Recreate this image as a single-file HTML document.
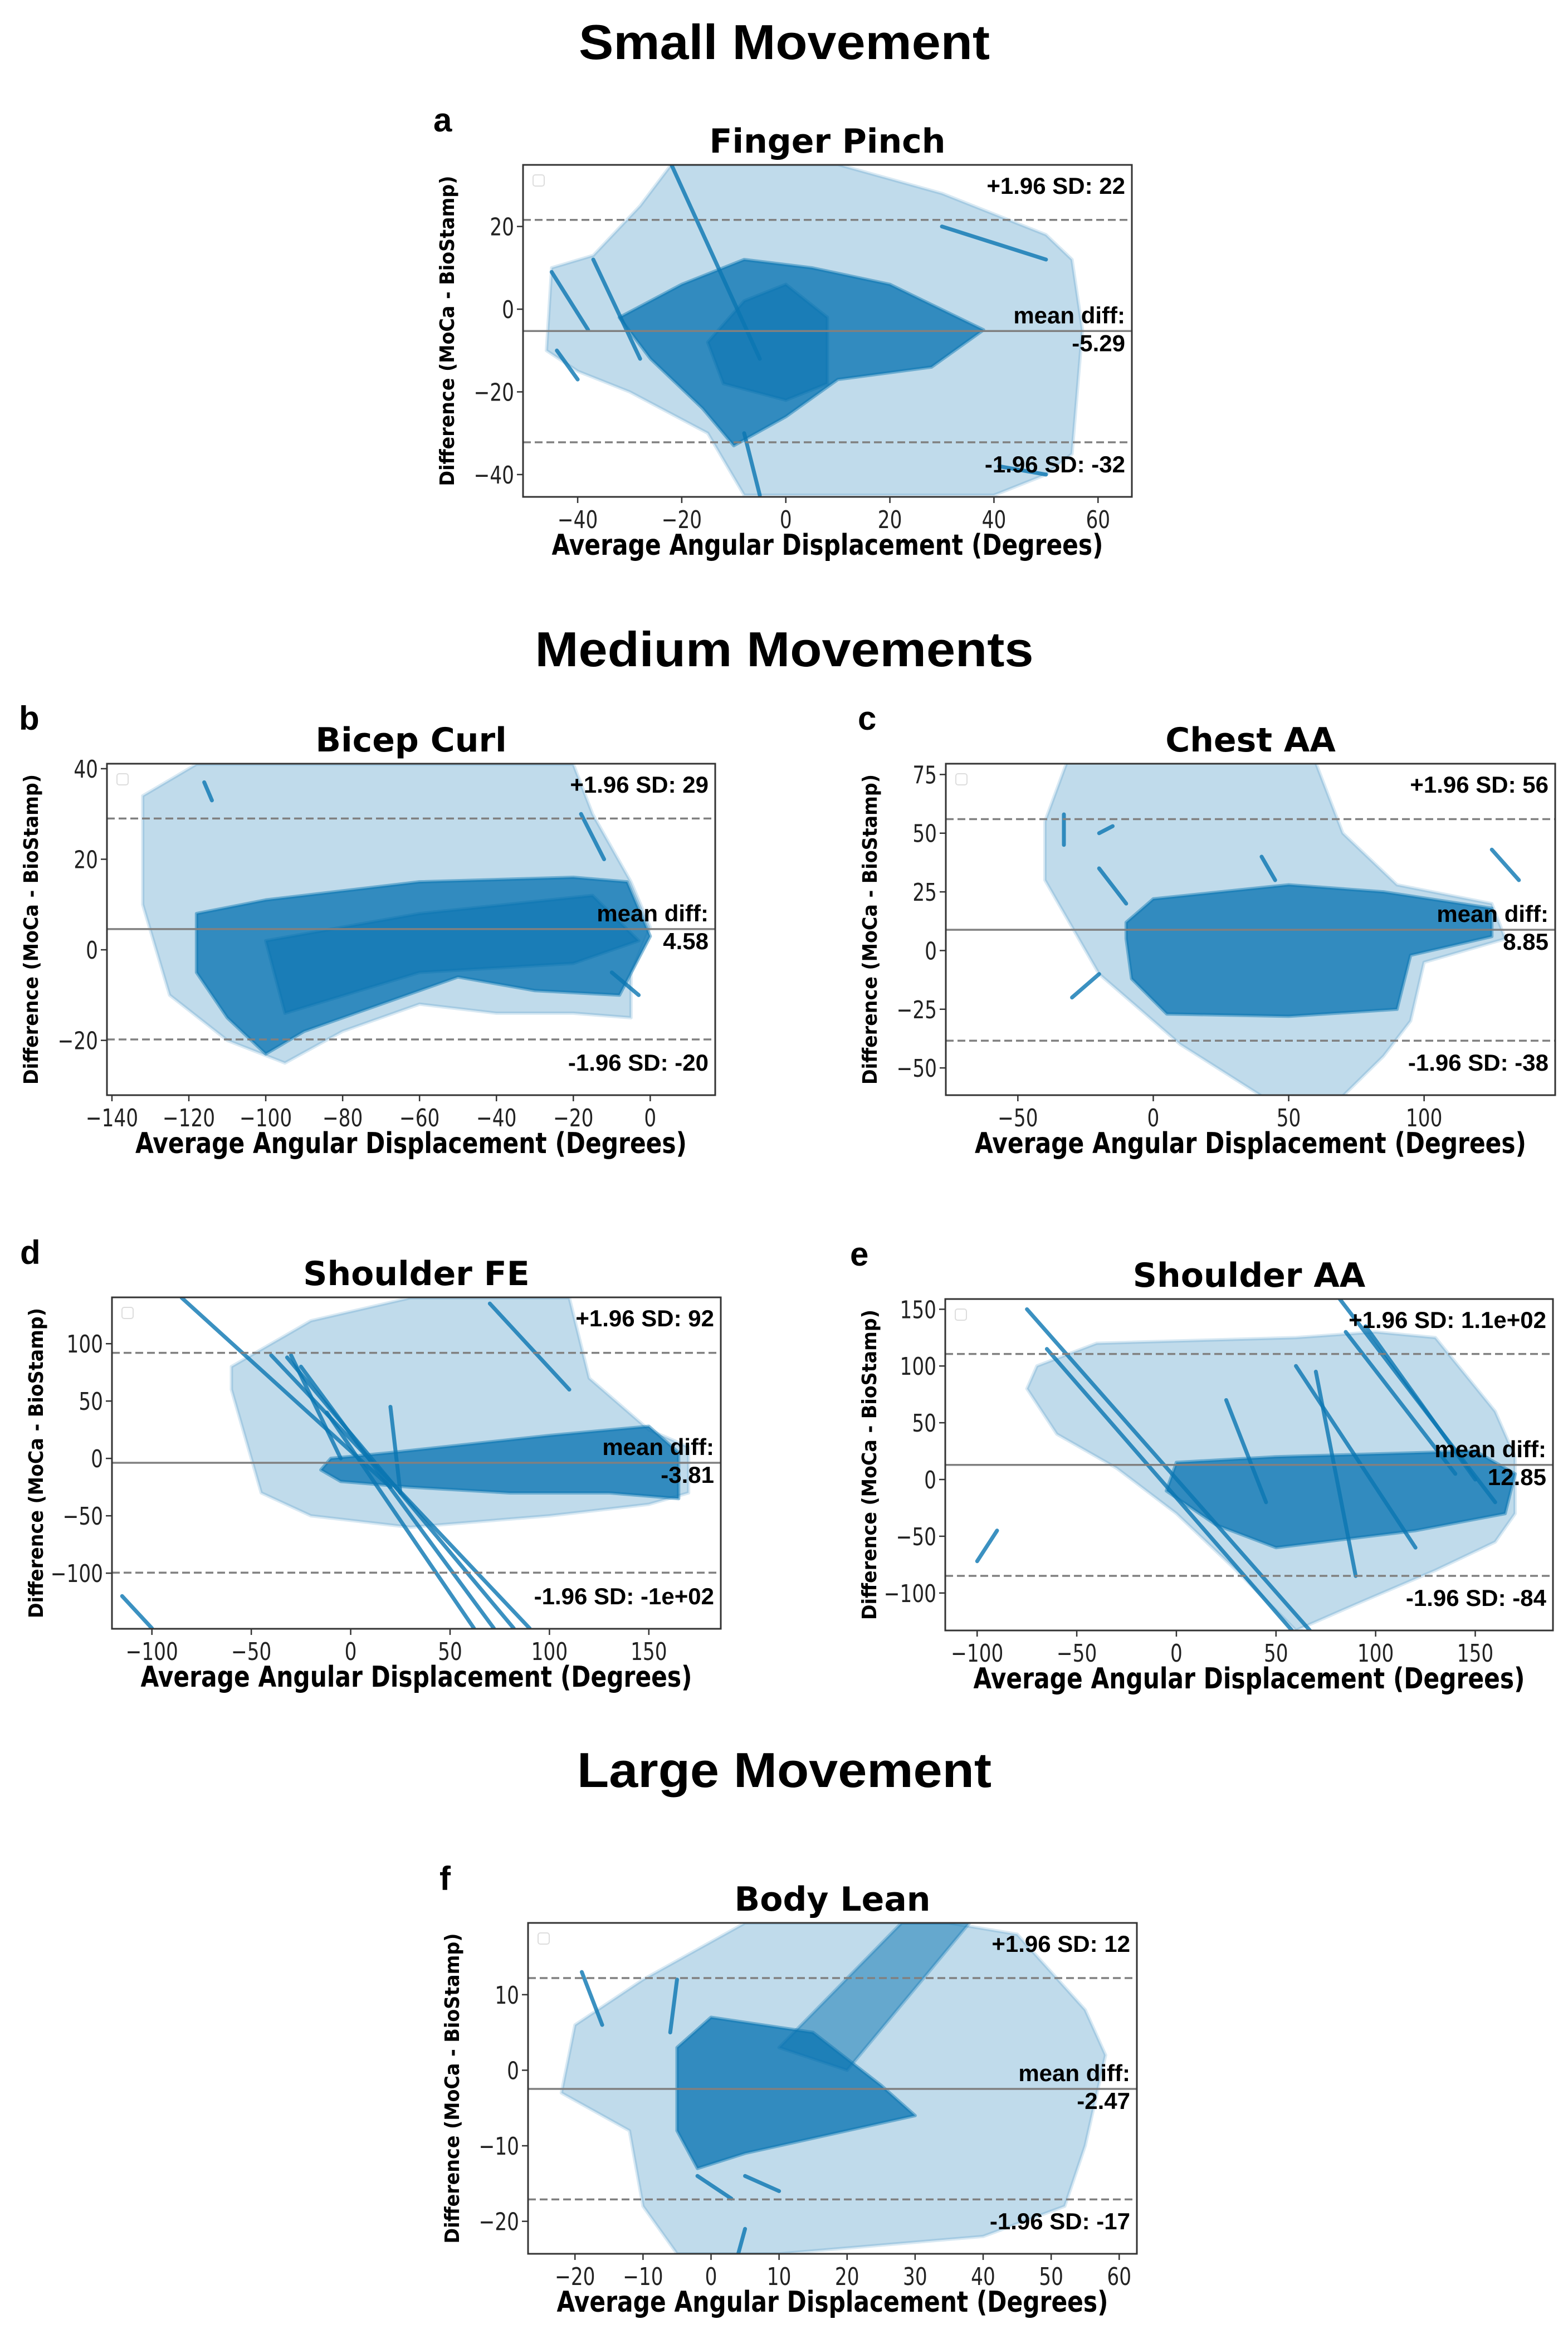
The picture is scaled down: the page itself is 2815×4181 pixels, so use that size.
<!DOCTYPE html>
<html><head><meta charset="utf-8"><title>Bland-Altman plots</title>
<style>
html,body{margin:0;padding:0;background:#fff;}
svg{display:block;}
.sec{font-family:"Liberation Sans",sans-serif;font-weight:bold;font-size:88px;fill:#000;}
.let{font-family:"Liberation Sans",sans-serif;font-weight:bold;font-size:60px;fill:#000;}
.ttl{font-family:"DejaVu Sans",sans-serif;font-weight:bold;font-size:60px;fill:#000;}
.tick{font-family:"DejaVu Sans",sans-serif;font-size:44px;fill:#222;}
.axl{font-family:"DejaVu Sans",sans-serif;font-weight:bold;font-size:52px;fill:#000;}
.yl{font-family:"DejaVu Sans",sans-serif;font-weight:bold;font-size:36px;fill:#000;}
.ann{font-family:"Liberation Sans",sans-serif;font-weight:bold;font-size:42px;fill:#000;}
</style></head>
<body>
<svg id="fig" xmlns="http://www.w3.org/2000/svg" width="2815" height="4181" viewBox="0 0 2815 4181">
<rect x="0" y="0" width="2815" height="4181" fill="#fff"/>
<text class="sec" x="1408" y="106" text-anchor="middle" textLength="738" lengthAdjust="spacingAndGlyphs">Small Movement</text>
<text class="sec" x="1408" y="1196" text-anchor="middle" textLength="895" lengthAdjust="spacingAndGlyphs">Medium Movements</text>
<text class="sec" x="1408" y="3208" text-anchor="middle" textLength="744" lengthAdjust="spacingAndGlyphs">Large Movement</text>
<text class="let" x="778" y="236">a</text>
<text class="let" x="34" y="1310">b</text>
<text class="let" x="1540" y="1310">c</text>
<text class="let" x="36" y="2269">d</text>
<text class="let" x="1526" y="2272">e</text>
<text class="let" x="789" y="3393">f</text>
</svg>
<script>
// ---------- data (data coordinates) ----------
// Panel a: Finger Pinch
const aXTicks = [-40,-20,0,20,40,60];
const aYTicks = [-40,-20,0,20];
const aLimits = [21.6,-5.29,-32.2];
const aLabels = ["+1.96 SD: 22","mean diff:","-5.29","-1.96 SD: -32"];
const aLight = [[-46,-10],[-45,10],[-37,13],[-28,25],[-22,35],[-5,35],[10,35],[30,28],[50,18],[55,12],[57,-5],[55,-35],[50,-40],[40,-45],[-8,-45],[-15,-30],[-30,-20],[-40,-15]];
const aDense = [[-32,-2],[-20,6],[-8,12],[5,10],[20,6],[38,-5],[28,-14],[10,-17],[0,-26],[-10,-33],[-16,-24],[-26,-12]];
const aCore = [[-8,2],[0,6],[8,-2],[8,-18],[0,-22],[-12,-18],[-15,-8]];
const aStreaks = [[-44,-10,-40,-17],[-45,9,-38,-5],[-37,12,-28,-12],[-22,35,-5,-12],[-8,-30,-5,-45],[41,-38,50,-40],[30,20,50,12]];
// Panel b: Bicep Curl
const bXTicks = [-140,-120,-100,-80,-60,-40,-20,0];
const bYTicks = [-20,0,20,40];
const bLimits = [29,4.58,-19.8];
const bLabels = ["+1.96 SD: 29","mean diff:","4.58","-1.96 SD: -20"];
const bLight = [[-132,34],[-118,41],[-20,41],[-15,30],[-5,15],[0,5],[-5,-5],[-5,-15],[-20,-14],[-40,-14],[-60,-12],[-80,-18],[-95,-25],[-110,-20],[-125,-10],[-132,10]];
const bDense = [[-118,8],[-100,11],[-60,15],[-20,16],[-6,15],[0,3],[-8,-10],[-30,-9],[-50,-6],[-70,-12],[-90,-18],[-100,-23],[-110,-15],[-118,-5]];
const bCore = [[-100,2],[-60,8],[-15,12],[-3,2],[-20,-3],[-60,-5],[-95,-14]];
const bStreaks = [[-116,37,-114,33],[-18,30,-12,20],[-10,-5,-3,-10]];
// Panel c: Chest AA
const cXTicks = [-50,0,50,100];
const cYTicks = [-50,-25,0,25,50,75];
const cLimits = [56,8.85,-38.4];
const cLabels = ["+1.96 SD: 56","mean diff:","8.85","-1.96 SD: -38"];
const cLight = [[-40,55],[-32,80],[60,80],[70,50],[90,28],[125,20],[130,5],[100,-5],[95,-30],[85,-45],[70,-62],[40,-62],[10,-40],[-20,-10],[-40,30]];
const cDense = [[-10,12],[0,22],[50,28],[85,25],[125,18],[125,6],[95,-2],[90,-25],[50,-28],[5,-27],[-8,-12],[-10,5]];
const cStreaks = [[-33,58,-33,45],[-20,50,-15,53],[-20,35,-10,20],[-30,-20,-20,-10],[40,40,45,30],[125,43,135,30]];
// Panel d: Shoulder FE
const dXTicks = [-100,-50,0,50,100,150];
const dYTicks = [-100,-50,0,50,100];
const dLimits = [92,-3.81,-99.6];
const dLabels = ["+1.96 SD: 92","mean diff:","-3.81","-1.96 SD: -1e+02"];
const dLight = [[-60,80],[-20,120],[30,140],[110,140],[120,70],[150,25],[170,10],[170,-30],[150,-40],[100,-50],[30,-60],[-20,-50],[-45,-30],[-50,0],[-60,60]];
const dDense = [[-10,0],[20,5],[100,20],[150,28],[165,5],[165,-35],[130,-30],[80,-30],[30,-25],[-5,-20],[-15,-10]];
const dStreaks = [[-40,90,90,-148],[-32,88,82,-148],[-25,80,72,-148],[-12,40,62,-148],[-85,140,20,-25],[20,45,25,-30],[-115,-120,-100,-148],[70,135,110,60],[-30,90,-5,0]];
// Panel e: Shoulder AA
const eXTicks = [-100,-50,0,50,100,150];
const eYTicks = [-100,-50,0,50,100,150];
const eLimits = [110.6,12.85,-84.9];
const eLabels = ["+1.96 SD: 1.1e+02","mean diff:","12.85","-1.96 SD: -84"];
const eLight = [[-70,100],[-40,120],[60,125],[100,130],[130,125],[160,60],[170,20],[170,-30],[160,-55],[130,-80],[90,-110],[60,-133],[30,-80],[0,-30],[-30,10],[-60,40],[-75,80]];
const eDense = [[0,15],[50,20],[150,25],[170,5],[165,-30],[120,-45],[50,-60],[20,-40],[-5,-10]];
const eStreaks = [[-75,150,67,-133],[-65,115,58,-133],[85,130,140,5],[95,135,150,0],[82,159,160,-20],[60,100,120,-60],[70,95,90,-85],[-100,-72,-90,-45],[25,70,45,-20]];
// Panel f: Body Lean
const fXTicks = [-20,-10,0,10,20,30,40,50,60];
const fYTicks = [-20,-10,0,10];
const fLimits = [12.2,-2.47,-17.1];
const fLabels = ["+1.96 SD: 12","mean diff:","-2.47","-1.96 SD: -17"];
const fLight = [[-22,-3],[-20,6],[-10,12],[5,19.5],[20,19.5],[35,19.5],[45,18],[55,8],[58,2],[55,-10],[52,-18],[40,-22],[10,-24.3],[-5,-24.3],[-10,-18],[-12,-8]];
const fDense = [[-5,3],[0,7],[15,5],[25,-2],[30,-6],[20,-8],[5,-11],[-2,-13],[-5,-8]];
const fBand = [[10,3],[28,19.5],[38,19.5],[20,0]];
const fStreaks = [[-19,13,-16,6],[-6,5,-5,12],[4,-24.3,5,-21],[-2,-14,3,-17],[5,-14,10,-16]];

// ---------- layout ----------
const NS = "http://www.w3.org/2000/svg";
const svg = document.getElementById('fig');
const BLUE = "#0a75b2";
function mk(tag, attrs, parent){
  const e = document.createElementNS(NS, tag);
  for (const k in attrs) e.setAttribute(k, attrs[k]);
  (parent||svg).appendChild(e);
  return e;
}
const panels = [
 {id:'a', title:'Finger Pinch', box:[939,296,2032,892], xr:[-50.5,66.5], yr:[-45.4,34.9], xt:aXTicks, yt:aYTicks, lim:aLimits, lab:aLabels, light:aLight, dense:aDense, core:aCore, band:null, streaks:aStreaks},
 {id:'b', title:'Bicep Curl', box:[192,1371,1284,1966], xr:[-141.3,16.9], yr:[-32.1,41.1], xt:bXTicks, yt:bYTicks, lim:bLimits, lab:bLabels, light:bLight, dense:bDense, core:bCore, band:null, streaks:bStreaks},
 {id:'c', title:'Chest AA', box:[1698,1371,2792,1966], xr:[-76.6,148.4], yr:[-61.6,79.6], xt:cXTicks, yt:cYTicks, lim:cLimits, lab:cLabels, light:cLight, dense:cDense, core:null, band:null, streaks:cStreaks},
 {id:'d', title:'Shoulder FE', box:[201,2329,1294,2924], xr:[-120.1,186.2], yr:[-148.5,140.4], xt:dXTicks, yt:dYTicks, lim:dLimits, lab:dLabels, light:dLight, dense:dDense, core:null, band:null, streaks:dStreaks},
 {id:'e', title:'Shoulder AA', box:[1697,2332,2788,2927], xr:[-116,189], yr:[-133,159], xt:eXTicks, yt:eYTicks, lim:eLimits, lab:eLabels, light:eLight, dense:eDense, core:null, band:null, streaks:eStreaks},
 {id:'f', title:'Body Lean', box:[948,3452,2041,4046], xr:[-26.9,62.6], yr:[-24.3,19.5], xt:fXTicks, yt:fYTicks, lim:fLimits, lab:fLabels, light:fLight, dense:fDense, core:null, band:fBand, streaks:fStreaks},
];
function fmt(v){ return v<0 ? '\u2212'+Math.abs(v) : String(v); }

panels.forEach(p=>{
  const [L,T,R,B] = p.box;
  const sx = v => L + (v-p.xr[0])/(p.xr[1]-p.xr[0])*(R-L);
  const sy = v => B - (v-p.yr[0])/(p.yr[1]-p.yr[0])*(B-T);
  const g = mk('g', {});
  
  
  const cp = mk('clipPath', {id:'clip-'+p.id}, g);
  mk('rect', {x:L, y:T, width:R-L, height:B-T}, cp);
  const plot = mk('g', {'clip-path':'url(#clip-'+p.id+')'}, g);
  
  
  const poly = (pts, fill, op, name) => {
    const e = mk('polygon', {points: pts.map(q=>sx(q[0])+','+sy(q[1])).join(' '), fill:fill, 'fill-opacity':op, stroke:fill, 'stroke-opacity':op*0.6, 'stroke-width':6, 'stroke-linejoin':'round'}, plot);
    
    
  };
  poly(p.light, BLUE, 0.26, 'sparse-points-'+p.id);
  if (p.band) poly(p.band, BLUE, 0.5, 'diagonal-band-'+p.id);
  poly(p.dense, BLUE, 0.78, 'dense-points-'+p.id);
  if (p.core) poly(p.core, BLUE, 0.6, 'core-points-'+p.id);
  p.streaks.forEach((s,i)=>{
    const e = mk('line', {x1:sx(s[0]), y1:sy(s[1]), x2:sx(s[2]), y2:sy(s[3]), stroke:BLUE, 'stroke-width':7, 'stroke-opacity':0.8, 'stroke-linecap':'round'}, plot);
    
    
  });
  p.lim.forEach((v,i)=>{
    const e = mk('line', {x1:L, x2:R, y1:sy(v), y2:sy(v), stroke:'#808080', 'stroke-width':3.5, 'stroke-dasharray': i===1 ? 'none' : '14,7'}, g);
    
    
  });
  const fr = mk('rect', {x:L, y:T, width:R-L, height:B-T, fill:'none', stroke:'#333', 'stroke-width':3}, g);
  
  
  const lg = mk('rect', {x:L+18, y:T+18, width:20, height:20, rx:4, fill:'#fff', stroke:'#ddd', 'stroke-width':2}, g);
  
  
  p.xt.forEach(v=>{
    const x = sx(v);
    mk('line', {x1:x, x2:x, y1:B, y2:B+11, stroke:'#333', 'stroke-width':2.5}, g);
    const t = mk('text', {class:'tick', 'text-anchor':'middle', transform:'translate('+x+','+(B+56)+') scale(0.78,1)'}, g);
    t.textContent = fmt(v);
    
    
  });
  p.yt.forEach(v=>{
    const y = sy(v);
    mk('line', {x1:L-11, x2:L, y1:y, y2:y, stroke:'#333', 'stroke-width':2.5}, g);
    const t = mk('text', {class:'tick', 'text-anchor':'end', transform:'translate('+(L-16)+','+(y+16)+') scale(0.78,1)'}, g);
    t.textContent = fmt(v);
    
    
  });
  const cx = (L+R)/2, cy = (T+B)/2;
  const tt = mk('text', {class:'ttl', x:cx, y:T-22, 'text-anchor':'middle'}, g);
  tt.textContent = p.title;
  
  
  const xl = mk('text', {class:'axl', x:cx, y:B+104, 'text-anchor':'middle', textLength:990, lengthAdjust:'spacingAndGlyphs'}, g);
  xl.textContent = 'Average Angular Displacement (Degrees)';
  
  
  const yl = mk('text', {class:'yl', 'text-anchor':'middle', textLength:557, lengthAdjust:'spacingAndGlyphs', transform:'translate('+(L-124)+','+cy+') rotate(-90)'}, g);
  yl.textContent = 'Difference (MoCa - BioStamp)';
  
  
  const ys = [T+52, sy(p.lim[1])-14, sy(p.lim[1])+36, B-44];
  const names = ['upper-limit-label','mean-diff-label','mean-diff-value','lower-limit-label'];
  p.lab.forEach((s,i)=>{
    const t = mk('text', {class:'ann', x:R-12, y:ys[i], 'text-anchor':'end'}, g);
    t.textContent = s;
    
    
  });
});
</script>
</body></html>
